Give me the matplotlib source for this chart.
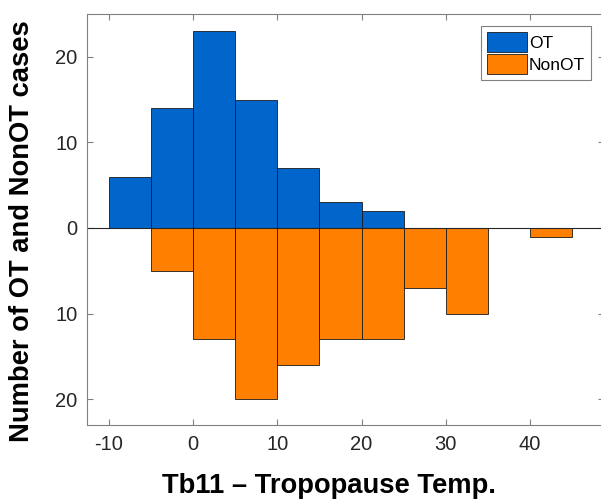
import numpy as np
import matplotlib
matplotlib.use("Agg")
import matplotlib.pyplot as plt
from matplotlib.ticker import FuncFormatter

plt.rcParams["font.family"] = ["Liberation Sans", "DejaVu Sans"]
plt.rcParams["axes.unicode_minus"] = False

# bin left edges (width 5)
ot_edges = [-10, -5, 0, 5, 10, 15, 20]
ot_counts = [6, 14, 23, 15, 7, 3, 2]

nonot_edges = [-5, 0, 5, 10, 15, 20, 25, 30, 40]
nonot_counts = [5, 13, 20, 16, 13, 13, 7, 10, 1]

bin_width = 5

fig = plt.figure(figsize=(6.01, 5.01), dpi=100)
ax = fig.add_axes([0.145, 0.152, 0.86, 0.82])

ax.bar(ot_edges, ot_counts, width=bin_width, align="edge",
       color="#0066cc", edgecolor="#1a1a1a", linewidth=0.6, label="OT")
ax.bar(nonot_edges, -np.array(nonot_counts), width=bin_width, align="edge",
       color="#ff8000", edgecolor="#1a1a1a", linewidth=0.6, label="NonOT")

ax.axhline(0, color="#262626", linewidth=0.8)

ax.set_xlim(-12.6, 48.8)
ax.set_ylim(-23, 25)
ax.set_xticks([-10, 0, 10, 20, 30, 40])
ax.set_yticks([-20, -10, 0, 10, 20])
ax.yaxis.set_major_formatter(FuncFormatter(lambda v, p: f"{abs(int(v))}"))

for s in ax.spines.values():
    s.set_color("#808080")
    s.set_linewidth(0.8)
ax.tick_params(direction="in", length=4, color="#808080", labelsize=14.5,
               labelcolor="#262626", top=True, right=True, pad=7)

ax.set_xlabel("Tb11 \u2013 Tropopause Temp.", fontsize=19.7, fontweight="bold")
ax.set_ylabel("Number of OT and NonOT cases", fontsize=19.7, fontweight="bold")
ax.xaxis.set_label_coords(0.468, -0.118)
ax.yaxis.set_label_coords(-0.1, 0.472)

leg = ax.legend(loc="upper right", bbox_to_anchor=(0.975, 0.97), fontsize=12.5,
                fancybox=False, framealpha=1, edgecolor="#808080",
                handlelength=2.3, handleheight=1.4, handletextpad=0.1,
                borderpad=0.35, labelspacing=0.1, borderaxespad=0)
leg.get_frame().set_linewidth(0.8)

fig.savefig("out.png", dpi=100)
